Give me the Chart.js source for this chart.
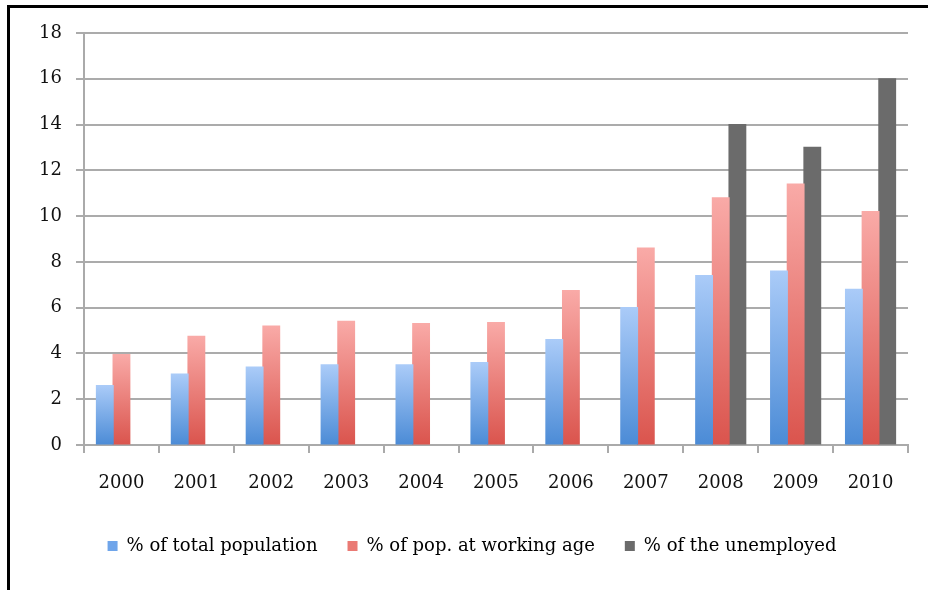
<!DOCTYPE html>
<html>
<head>
<meta charset="utf-8">
<script src="https://cdn.jsdelivr.net/npm/chart.js@4.4.1/dist/chart.umd.min.js"></script>
<style>
  html, body { margin: 0; padding: 0; background: #fff; }
  #wrap { position: relative; width: 928px; height: 590px; }
  #frame { position: absolute; left: 7px; top: 5px; right: 0; bottom: 0;
           border-top: 3px solid #000; border-left: 3px solid #000; pointer-events: none; }
  canvas { position: absolute; left: 0; top: 0; }
</style>
</head>
<body>
<div id="wrap">
  <canvas id="chart" width="928" height="590"></canvas>
  <div id="frame"></div>
</div>
<script>
// data
const years = ["2000", "2001", "2002", "2003", "2004", "2005", "2006", "2007", "2008", "2009", "2010"];
const totalPop = [2.6, 3.1, 3.4, 3.5, 3.5, 3.6, 4.6, 6.0, 7.4, 7.6, 6.8];
const workingAge = [3.95, 4.75, 5.2, 5.4, 5.3, 5.35, 6.75, 8.6, 10.8, 11.4, 10.2];
const unemployed = [null, null, null, null, null, null, null, null, 14, 13, 16];
const seriesNames = ["% of total population", "% of pop. at working age", "% of the unemployed"];
const yTicks = [0, 2, 4, 6, 8, 10, 12, 14, 16, 18];

const FONT = "'DejaVu Serif', serif";

// vertical gradient per bar, light at top, dark at the base
function barGradient(light, dark) {
  return function (context) {
    const chart = context.chart;
    if (context.type !== 'data' || !chart.chartArea || context.raw == null) return dark;
    const y = chart.scales.y;
    const top = y.getPixelForValue(context.raw);
    const bottom = y.getPixelForValue(0);
    const g = chart.ctx.createLinearGradient(0, top, 0, bottom);
    g.addColorStop(0, light);
    g.addColorStop(1, dark);
    return g;
  };
}

new Chart(document.getElementById("chart"), {
  type: 'bar',
  data: {
    labels: years,
    datasets: [
      { label: seriesNames[0], data: totalPop, backgroundColor: barGradient('#aacbf8', '#4b8bd6') },
      { label: seriesNames[1], data: workingAge, backgroundColor: barGradient('#f9aaa7', '#da544d') },
      { label: seriesNames[2], data: unemployed, backgroundColor: '#6b6b6b' }
    ]
  },
  options: {
    responsive: false,
    animation: false,
    layout: { padding: { top: 33, right: 20, bottom: 25, left: 36 } },
    datasets: { bar: { categoryPercentage: 0.667, barPercentage: 1.0, borderWidth: 0, inflateAmount: 0.6 } },
    scales: {
      x: {
        grid: { offset: true, drawOnChartArea: false, tickLength: 8, color: '#aaaaaa', lineWidth: 2 },
        border: { color: '#aaaaaa', width: 2 },
        ticks: { color: '#111', font: { family: FONT, size: 18 }, padding: 20 },
        afterFit: (s) => { s.height = 62; }
      },
      y: {
        min: 0, max: 18,
        afterBuildTicks: (s) => { s.ticks = yTicks.map(v => ({ value: v })); },
        grid: { color: '#ababab', lineWidth: 2, tickLength: 8 },
        border: { color: '#aaaaaa', width: 2 },
        ticks: { color: '#111', font: { family: FONT, size: 18 }, padding: 14 },
        afterFit: (s) => { s.width = 48; }
      }
    },
    plugins: {
      legend: {
        position: 'bottom',
        labels: {
          boxWidth: 10, boxHeight: 10, padding: 30, color: '#111',
          font: { family: FONT, size: 18 },
          generateLabels: (chart) => chart.data.datasets.map((d, i) => ({
            text: d.label,
            fillStyle: ['#6fa5ea', '#ea7a74', '#6b6b6b'][i],
            strokeStyle: 'transparent', lineWidth: 0, datasetIndex: i
          }))
        }
      },
      tooltip: { enabled: false }
    }
  }
});
</script>
</body>
</html>
